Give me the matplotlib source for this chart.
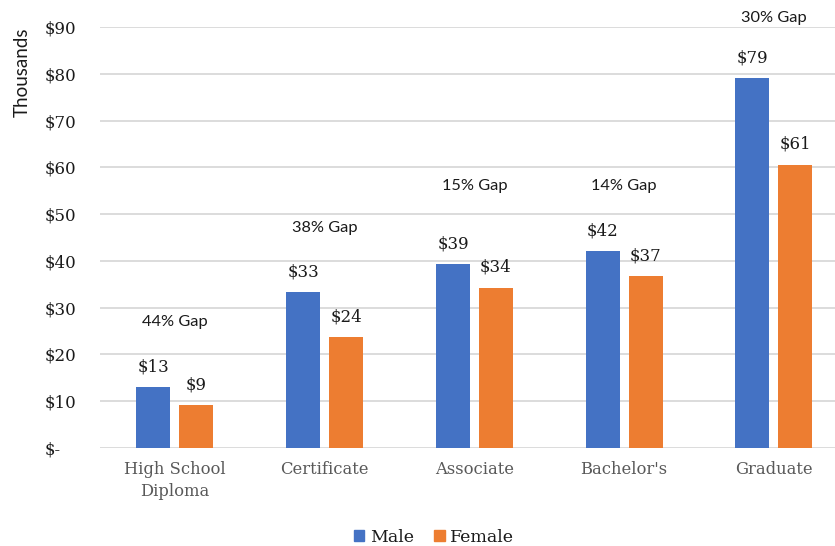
import matplotlib.pyplot as plt
import numpy as np
from matplotlib.ticker import FuncFormatter, MultipleLocator
from matplotlib.patches import Patch

# median earnings by education level, in thousands of dollars
categories = ['High School\nDiploma', 'Certificate', 'Associate', "Bachelor's", 'Graduate']
male = [13.0, 33.4, 39.3, 42.1, 79.0]
female = [9.2, 23.7, 34.3, 36.7, 60.6]
gap_labels = ['44% Gap', '38% Gap', '15% Gap', '14% Gap', '30% Gap']

# height (in data units) of each gap note
gap_y = [27, 47, 56, 56, 92]

BLUE = '#4472C4'
ORANGE = '#ED7D31'
GRID = '#d9d9d9'
SERIF = ['DejaVu Serif']
SANS = ['Lato', 'DejaVu Sans']

W, H = 835, 546
fig = plt.figure(figsize=(W / 100, H / 100), dpi=100)
ax = fig.add_axes([100 / W, (H - 448) / H, (W - 100) / W, (448 - 27) / H])

x = np.arange(len(categories))
bw = 0.227
off = 0.143
ax.bar(x - off, male, bw, color=BLUE, zorder=2)
ax.bar(x + off, female, bw, color=ORANGE, zorder=2)

for xi, m, f in zip(x, male, female):
    ax.annotate(f'${m:.0f}', (xi - off, m), xytext=(0, 14.5), textcoords='offset points',
                ha='center', va='center', fontsize=12, family=SERIF, color='#1a1a1a')
    ax.annotate(f'${f:.0f}', (xi + off, f), xytext=(0, 14.5), textcoords='offset points',
                ha='center', va='center', fontsize=12, family=SERIF, color='#1a1a1a')

for xi, lab, gy in zip(x, gap_labels, gap_y):
    ax.text(xi, gy, lab, ha='center', va='center', fontsize=11.8, family=SANS, color='#1a1a1a')

ax.set_xlim(-0.5, -0.5 + (W - 100) / 149.75)
ax.set_ylim(0, 90)
ax.yaxis.set_major_locator(MultipleLocator(10))
ax.yaxis.set_major_formatter(FuncFormatter(lambda v, p: '$-' if v == 0 else f'${v:.0f}'))
ax.yaxis.grid(True, color=GRID, lw=1.3)
ax.set_axisbelow(True)
for s in ax.spines.values():
    s.set_visible(False)

ax.set_xticks(x)
ax.set_xticklabels(categories, family=SERIF, fontsize=11.8, color='#595959', linespacing=1.4)
ax.tick_params(axis='x', length=0, pad=9)
ax.tick_params(axis='y', length=0, pad=40, labelsize=12, labelcolor='#1a1a1a')
for t in ax.get_yticklabels():
    t.set_ha('left')
    t.set_family(SERIF)

fig.text(22 / W, 1 - 72 / H, 'Thousands', rotation=90, ha='center', va='center',
         fontsize=13.5, family=SANS, color='#1a1a1a')

handles = [Patch(color=BLUE, label='Male'), Patch(color=ORANGE, label='Female')]
leg = fig.legend(handles=handles, loc='center', bbox_to_anchor=(434 / W, 1 - 537 / H), ncol=2,
                 frameon=False, handlelength=0.6, handleheight=0.6, handletextpad=0.3,
                 columnspacing=1.2, prop={'family': SERIF, 'size': 12.5})
for t in leg.get_texts():
    t.set_color('#1a1a1a')

fig.savefig('out.png', dpi=100)
